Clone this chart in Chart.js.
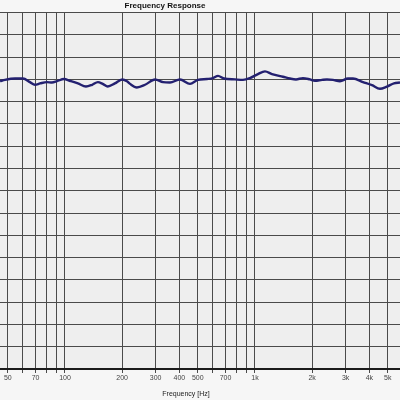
<!DOCTYPE html>
<html lang="en">
<head>
<meta charset="UTF-8">
<title>Frequency Response</title>
<script src="https://cdn.jsdelivr.net/npm/chart.js"></script>
<style>
  html, body { margin: 0; padding: 0; background: #f6f6f6; overflow: hidden; }
  #wrap { position: relative; width: 400px; height: 400px; overflow: hidden; }
  /* the plot is cropped on the left, like the screenshot */
  #chart { position: absolute; left: -70px; top: 0; }
</style>
</head>
<body>
<div id="wrap">
  <canvas id="chart" width="470" height="400"></canvas>
</div>
<script>
// frequency (Hz) and level (dB)
const freqHz = [45.5, 48.3, 54.6, 60.1, 65.4, 69.5, 73.9, 80.4, 85.4, 90.8, 98.8,
  106, 117, 129, 139, 149, 158, 168, 183, 200, 212, 220, 239, 264, 298, 328, 357,
  403, 455, 501, 559, 601, 639, 687, 785, 865, 941, 1037, 1129, 1229, 1404, 1529,
  1644, 1789, 1948, 2069, 2253, 2393, 2573, 2802, 3087, 3280, 3702, 4129, 4549,
  4952, 5391, 5800];
const levelDb = [104.6, 104.9, 105.2, 105.2, 104.4, 103.8, 104.1, 104.4, 104.3, 104.6, 105.1,
  104.7, 104.1, 103.4, 103.8, 104.4, 104.0, 103.4, 104.1, 105.0, 104.6, 104.0, 103.2, 103.8, 105.0, 104.4, 104.3,
  105.0, 104.0, 104.9, 105.1, 105.3, 105.8, 105.2, 105.0, 104.9, 105.3, 106.2, 106.8, 106.2, 105.6, 105.2,
  105.0, 105.3, 105.0, 104.7, 104.9, 105.0, 104.9, 104.6, 105.2, 105.2, 104.4, 103.7, 102.9,
  103.4, 104.1, 104.3];

// x grid positions and the labels printed under them
const xTicks = [40, 50, 60, 70, 80, 90, 100, 200, 300, 400, 500, 600, 700, 800, 900,
  1000, 2000, 3000, 4000, 5000];
const xTickLabels = ['40', '50', '', '70', '', '', '100', '200', '300', '400', '500', '', '700', '', '',
  '1k', '2k', '3k', '4k', '5k'];

const gridColor = '#4a4a4a';

// grey plot background
const plotBg = {
  id: 'plotBg',
  beforeDraw(chart) {
    const a = chart.chartArea;
    const ctx = chart.ctx;
    ctx.save();
    ctx.fillStyle = '#eeeeee';
    ctx.fillRect(a.left, a.top, a.right - a.left, a.bottom - a.top);
    ctx.restore();
  }
};

new Chart(document.getElementById('chart'), {
  type: 'line',
  data: {
    datasets: [{
      label: 'Response',
      data: freqHz.map((f, i) => ({ x: f, y: levelDb[i] })),
      borderColor: '#232070',
      borderWidth: 2.4,
      pointRadius: 0,
      cubicInterpolationMode: 'monotone'
    }]
  },
  options: {
    responsive: false,
    animation: false,
    layout: { padding: 0 },
    plugins: {
      legend: { display: false },
      tooltip: { enabled: false },
      title: {
        display: true,
        text: 'Frequency Response',
        color: '#111',
        font: { family: 'Liberation Sans', size: 8, weight: 'bold' },
        padding: { top: 1, bottom: 2 }
      }
    },
    scales: {
      x: {
        type: 'logarithmic',
        min: 32.4,
        max: 5800,
        afterBuildTicks: s => { s.ticks = xTicks.map(v => ({ value: v })); },
        afterFit: s => { s.height = 31; },
        ticks: {
          autoSkip: false,
          maxRotation: 0,
          padding: 1,
          color: '#444',
          font: { family: 'Liberation Sans', size: 7 },
          callback: v => xTickLabels[xTicks.indexOf(v)] ?? ''
        },
        grid: { color: gridColor, lineWidth: 1, tickLength: 4, tickColor: gridColor },
        border: { display: true, color: '#1a1a1a', width: 2 },
        title: {
          display: true,
          text: 'Frequency [Hz]',
          color: '#222',
          font: { family: 'Liberation Sans', size: 7 },
          padding: { top: 0, bottom: 2 }
        }
      },
      y: {
        min: 40,
        max: 120,
        afterFit: s => { s.width = 42; },
        ticks: { stepSize: 5, display: false },
        grid: { color: gridColor, lineWidth: 1, drawTicks: false },
        border: { display: false }
      }
    }
  },
  plugins: [plotBg]
});
</script>
</body>
</html>
